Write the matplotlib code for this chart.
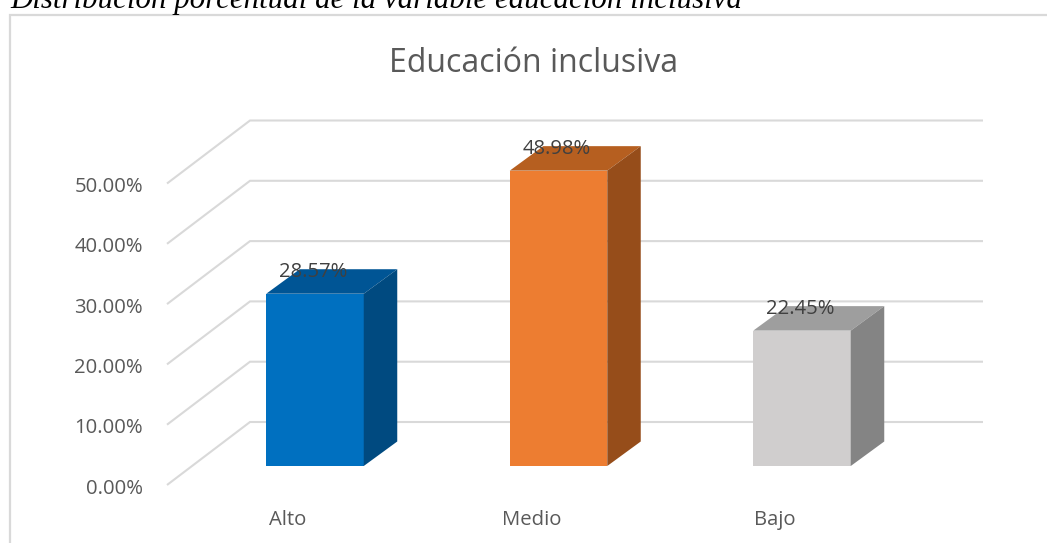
import matplotlib
matplotlib.use('Agg')
import matplotlib.pyplot as plt
from matplotlib.patches import Polygon

categorias = ['Alto', 'Medio', 'Bajo']
valores = [28.57, 48.98, 22.45]
etiquetas = ['28.57%', '48.98%', '22.45%']
niveles = [0, 10, 20, 30, 40, 50]
niveles_txt = ['0.00%', '10.00%', '20.00%', '30.00%', '40.00%', '50.00%']
frente = ['#0070C0', '#ED7D31', '#D0CECE']
arriba = ['#005595', '#B65F20', '#9E9E9E']
lado = ['#004A80', '#964D1A', '#848484']

W, H = 1047, 543
px_por_y = 6.03   # pixeles por 1%
px_por_x = 243.5  # pixeles entre barras

fig = plt.figure(figsize=(W / 100, H / 100), dpi=100)
ax = fig.add_axes([0, 0, 1, 1])
# x en unidades de categoria, y en porcentaje
ax.set_xlim(-315 / px_por_x, (W - 315) / px_por_x)
ax.set_ylim(-(H - 485) / px_por_y, 485 / px_por_y)
ax.axis('off')
plt.rcParams['font.family'] = ['Open Sans', 'DejaVu Sans']

dx = 33.5 / px_por_x   # profundidad de la barra
dy = 24.5 / px_por_y
base = 19 / px_por_y
ancho = 97.5 / px_por_x
wall_dx = 83 / px_por_x
wall_dy = 63 / px_por_y
left = -148 / px_por_x
right = 668 / px_por_x

gris = '#D9D9D9'
for n in niveles:
    ax.plot([left, left + wall_dx, right], [n, n + wall_dy, n + wall_dy], color=gris, lw=1.5,
            solid_capstyle='butt', solid_joinstyle='miter', zorder=1)
    ax.text(left - 24 / px_por_x, n - 3.5 / px_por_y, niveles_txt[niveles.index(n)], ha='right',
            va='center', fontsize=14.6, color='#595959')

for i, v in enumerate(valores):
    x0 = i - ancho / 2
    x1 = i + ancho / 2
    ax.bar(i, v, width=ancho, bottom=base, color=frente[i], linewidth=0, zorder=3)
    top = base + v
    ax.add_patch(Polygon([(x0, top), (x1, top), (x1 + dx, top + dy), (x0 + dx, top + dy)],
                         closed=True, fc=arriba[i], ec='none', zorder=3))
    ax.add_patch(Polygon([(x1, base), (x1 + dx, base + dy), (x1 + dx, top + dy), (x1, top)],
                         closed=True, fc=lado[i], ec='none', zorder=3))
    ax.text(i - 0.006, top + dy - 0.5, etiquetas[i], ha='center', va='center', fontsize=14.6,
            color='#404040', zorder=4)
    ax.text(i - 27 / px_por_x, -35 / px_por_y, categorias[i], ha='center', va='center',
            fontsize=14.6, color='#595959')

ax.text(533.5 / W, 1 - 63 / H, 'Educación inclusiva', transform=ax.transAxes, ha='center',
        va='center', fontsize=23, color='#595959')

# marco del grafico
ax.plot([10 / W, 10 / W, 1], [0, 1 - 14.5 / H, 1 - 14.5 / H], transform=ax.transAxes,
        color='#D9D9D9', lw=1.6, solid_joinstyle='miter', clip_on=False)

ax.text(10 / W, 1 - 8 / H, 'Distribución porcentual de la variable educación inclusiva',
        transform=ax.transAxes, ha='left', va='baseline', fontsize=22.2,
        style='italic', family=['Liberation Serif'], color='black')

fig.savefig('out.png', dpi=100)
